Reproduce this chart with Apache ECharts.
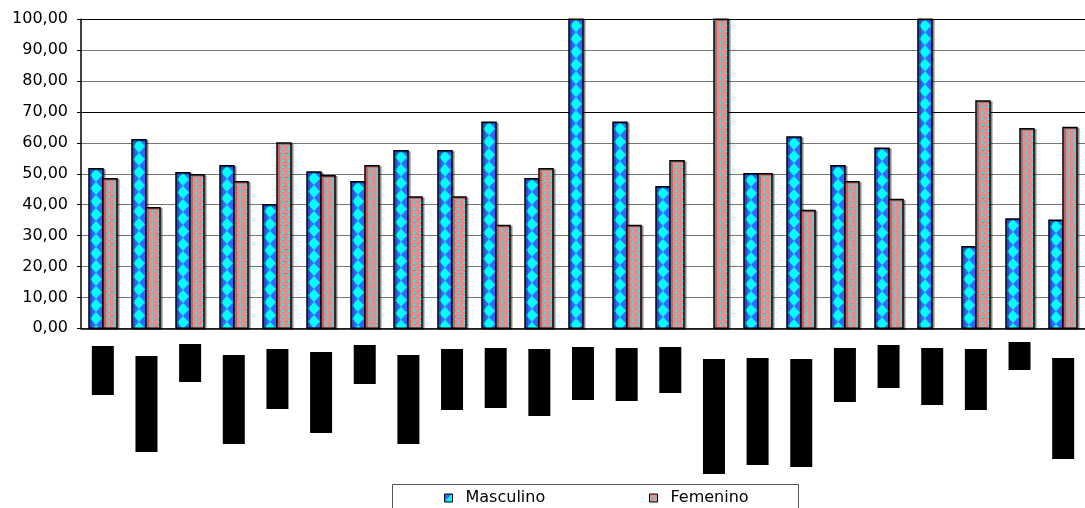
<!DOCTYPE html>
<html><head><meta charset="utf-8">
<script src="https://cdn.jsdelivr.net/npm/echarts@6/dist/echarts.min.js"></script>
<style>html,body{margin:0;padding:0;background:#fff}#c{width:1085px;height:508px}</style>
</head><body><div id="c"></div>
<script>
// ---- data ----
const categories = ['G1','G2','G3','G4','G5','G6','G7','G8','G9','G10','G11','G12','G13','G14','G15','G16','G17','G18','G19','G20','G21','G22','G23'];
const masculino = [51.6,61.0,50.3,52.6,40.0,50.6,47.4,57.5,57.5,66.7,48.4,100,66.7,45.8,0,50.0,61.9,52.6,58.3,100,26.4,35.4,35.0];
const femenino  = [48.4,39.0,49.7,47.4,60.0,49.4,52.6,42.5,42.5,33.3,51.6,0,33.3,54.2,100,50.0,38.1,47.4,41.7,0,73.6,64.6,65.0];
// obscured (blacked-out) category label blocks: start below axis and extent
const labelStart  = [18,28,16,27,21,24,17,27,21,20,21,19,20,19,31,30,31,20,17,20,21,14,30];
const labelLength = [49,96,38,89,60,81,39,89,61,60,67,53,53,46,115,107,108,54,43,57,61,28,101];
const seriesNames = ['Masculino','Femenino'];

function diamondPattern(){
  const c=document.createElement('canvas'); c.width=14; c.height=13;
  const g=c.getContext('2d');
  g.fillStyle='#3366FF'; g.fillRect(0,0,14,13);
  g.fillStyle='#00FFFF'; g.beginPath();
  g.moveTo(7,0); g.lineTo(13,6.5); g.lineTo(7,13); g.lineTo(1,6.5); g.closePath(); g.fill();
  return c;
}
function circlePattern(){
  const c=document.createElement('canvas'); c.width=6; c.height=6;
  const g=c.getContext('2d');
  g.fillStyle='#FF8080'; g.fillRect(0,0,6,6);
  g.fillStyle='#00FFFF';
  g.fillRect(0,0,1,1); g.fillRect(5,0,1,1); g.fillRect(0,5,1,1); g.fillRect(5,5,1,1);
  g.fillRect(2,2,2,1); g.fillRect(0,3,1,1); g.fillRect(5,3,1,1);
  return c;
}
const mascFill = {image: diamondPattern(), repeat:'repeat'};
const femFill = {image: circlePattern(), repeat:'repeat'};

const splitColors = ['#777','#777','#777','#777','#777','#777','#777','#000','#777','#777','#000'];
const font = 'DejaVu Sans';
const BAR_W = 14;

function barRenderer(fill, side){
  return function(params, api){
    const cat = api.value(0), val = api.value(1);
    const base = api.coord([cat, 0]);
    const top = api.coord([cat, val]);
    const x = base[0] + (side < 0 ? -BAR_W : 0);
    const h = base[1] - top[1];
    if (h <= 0) return null;
    return {type:'group', x: Math.round(x), y: top[1], children:[{
      type:'rect', shape:{x:0, y:0, width:BAR_W, height:h},
      style:{fill: fill, stroke:'#000', lineWidth:1.5,
             shadowColor:'rgba(0,0,0,0.3)', shadowOffsetX:2, shadowOffsetY:1}
    }]};
  };
}

const chart = echarts.init(document.getElementById('c'), null, {renderer:'canvas'});
chart.setOption({
  animation:false,
  backgroundColor:'#fff',
  grid:[
    {left:81, top:19.3, width:1016, height:309},
    {left:81, top:328, width:1016, height:150}
  ],
  xAxis:[
    {type:'category', data:categories, gridIndex:0,
     axisLine:{show:true, lineStyle:{color:'#000', width:1.5}},
     axisTick:{show:false}, axisLabel:{show:false}, splitLine:{show:false}},
    {type:'category', data:categories, gridIndex:1, show:false}
  ],
  yAxis:[
    {type:'value', min:0, max:100, interval:10, gridIndex:0,
     axisLine:{show:true, lineStyle:{color:'#000', width:1.5}},
     axisTick:{show:true, length:4, lineStyle:{color:'#000'}},
     axisLabel:{margin:13, fontSize:16, fontFamily:font, color:'#000',
       formatter:v=>v.toFixed(2).replace('.',',')},
     splitLine:{show:true, lineStyle:{color:splitColors, width:1.2}}},
    {type:'value', min:0, max:150, inverse:true, gridIndex:1, show:false, splitLine:{show:false}}
  ],
  legend:[
    {data:[{name:'Masculino', itemStyle:{color:mascFill}}], left:444, top:490, padding:0, icon:'rect', itemWidth:8, itemHeight:8,
     itemStyle:{borderColor:'#000', borderWidth:1},
     textStyle:{fontSize:16, fontFamily:font, color:'#000', padding:[0,0,0,8]}},
    {data:[{name:'Femenino', itemStyle:{color:femFill}}], left:649, top:490, padding:0, icon:'rect', itemWidth:8, itemHeight:8,
     itemStyle:{borderColor:'#000', borderWidth:1},
     textStyle:{fontSize:16, fontFamily:font, color:'#000', padding:[0,0,0,8]}}
  ],
  graphic:[{type:'rect', shape:{x:392.5, y:484.5, width:406, height:40},
            style:{fill:'none', stroke:'#555', lineWidth:1}, silent:true}],
  series:[
    {name:seriesNames[0], type:'custom', xAxisIndex:0, yAxisIndex:0,
     data:masculino.map((v,i)=>[i,v]), encode:{x:0, y:1},
     itemStyle:{color:mascFill}, renderItem:barRenderer(mascFill,-1), z:3},
    {name:seriesNames[1], type:'custom', xAxisIndex:0, yAxisIndex:0,
     data:femenino.map((v,i)=>[i,v]), encode:{x:0, y:1},
     itemStyle:{color:femFill}, renderItem:barRenderer(femFill,1), z:3},
    {name:'labelGap', type:'bar', xAxisIndex:1, yAxisIndex:1, stack:'lab', data:labelStart,
     barWidth:22, silent:true, itemStyle:{color:'rgba(0,0,0,0)'}},
    {name:'labelBlock', type:'bar', xAxisIndex:1, yAxisIndex:1, stack:'lab', data:labelLength,
     barWidth:22, silent:true, itemStyle:{color:'#000'}}
  ]
});
</script></body></html>
